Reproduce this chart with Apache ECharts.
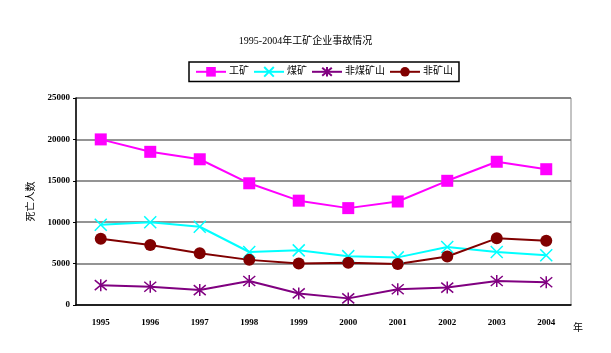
<!DOCTYPE html>
<html>
<head>
<meta charset="UTF-8">
<script src="https://cdn.jsdelivr.net/npm/echarts@6/dist/echarts.min.js"></script>
<style>html,body{margin:0;padding:0;background:#fff}#c{width:611px;height:353px}</style>
</head>
<body>
<div id="c"></div>
<script>
// data
const years = ['1995','1996','1997','1998','1999','2000','2001','2002','2003','2004']
const gongkuang = [20000, 18500, 17600, 14700, 12600, 11700, 12500, 15000, 17300, 16400]
const meikuang = [9700, 10000, 9450, 6400, 6600, 5900, 5750, 7000, 6400, 6000]
const feimeikuangshan = [2400, 2200, 1800, 2900, 1400, 800, 1900, 2100, 2900, 2750]
const feikuangshan = [8000, 7250, 6250, 5450, 5000, 5100, 4950, 5850, 8050, 7750]
const seriesNames = ['工矿', '煤矿', '非煤矿山', '非矿山']

const font = '"Liberation Serif", "Noto Sans CJK SC", serif'
const crossPath = 'path://M0,0 L10,10 M10,0 L0,10'
const starPath = 'path://M0,0 L10,10 M10,0 L0,10 M5,-1 L5,11'

function line(name, data, color, symbol, size, hollow) {
  return {
    name, type: 'line', data, symbol, symbolSize: size,
    showAllSymbol: true,
    lineStyle: { color, width: 2 },
    itemStyle: hollow
      ? { color: 'rgba(0,0,0,0)', borderColor: color, borderWidth: 1.5 }
      : { color, borderWidth: 0 },
    emphasis: { disabled: true },
    animation: false
  }
}

const chart = echarts.init(document.getElementById('c'))
chart.setOption({
  animation: false,
  textStyle: { fontFamily: font },
  title: {
    text: '1995-2004年工矿企业事故情况',
    left: 'center', top: 31,
    textStyle: { fontSize: 10, fontWeight: 'normal', color: '#000', fontFamily: font }
  },
  legend: {
    data: seriesNames,
    left: 189, top: 62,
    orient: 'horizontal',
    padding: [4, 6, 4, 6],
    itemGap: 4, itemWidth: 30, itemHeight: 12,
    borderColor: '#000', borderWidth: 1.5,
    textStyle: { fontSize: 10, color: '#000', fontFamily: font, padding: [0, 0, 0, -2] }
  },
  grid: {
    left: 76, right: 40, top: 98, bottom: 48,
    show: true, borderColor: '#888', borderWidth: 1
  },
  xAxis: {
    type: 'category', data: years, boundaryGap: true,
    name: '年', nameLocation: 'end', nameGap: 2,
    nameTextStyle: { fontSize: 10, color: '#000', verticalAlign: 'top', padding: [18, 0, 0, 0] },
    axisLine: { lineStyle: { color: '#000', width: 1.5 } },
    axisTick: { inside: true, length: 4, lineStyle: { color: '#000' } },
    axisLabel: { fontSize: 9, color: '#000', margin: 13, fontWeight: 'bold' }
  },
  yAxis: {
    type: 'value', min: 0, max: 25000, interval: 5000,
    name: '死亡人数', nameLocation: 'middle', nameGap: 36, nameRotate: 90,
    nameTextStyle: { fontSize: 10, color: '#000' },
    axisLine: { show: true, lineStyle: { color: '#000', width: 1.5 } },
    axisTick: { show: true, length: 3, lineStyle: { color: '#000' } },
    axisLabel: { fontSize: 9, color: '#000', margin: 6, fontWeight: 'bold', formatter: v => String(v) },
    splitLine: { lineStyle: { color: '#707070', width: 1.5 } }
  },
  series: [
    line(seriesNames[0], gongkuang, '#ff00ff', 'rect', 12, false),
    line(seriesNames[1], meikuang, '#00ffff', crossPath, 12, true),
    line(seriesNames[2], feimeikuangshan, '#800080', starPath, 12, true),
    line(seriesNames[3], feikuangshan, '#800000', 'circle', 12, false)
  ]
})
</script>
</body>
</html>
